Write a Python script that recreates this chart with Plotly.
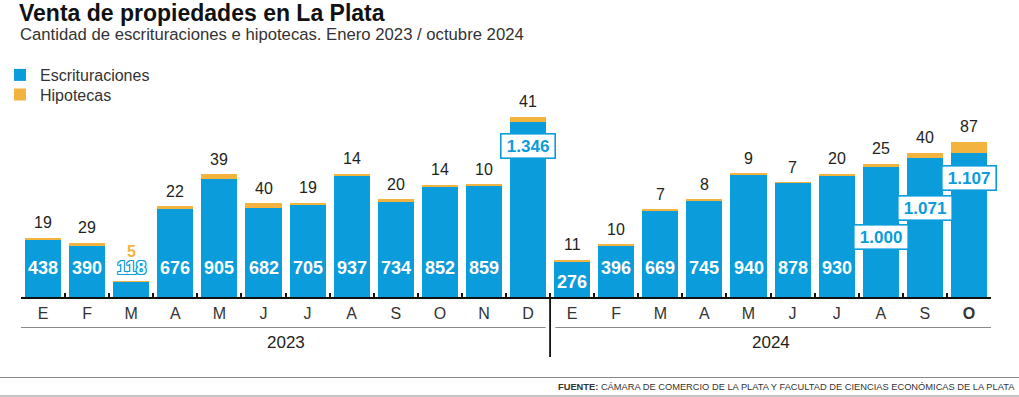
import plotly.graph_objects as go

# ---------------- data ----------------
months = ["E", "F", "M", "A", "M", "J", "J", "A", "S", "O", "N", "D",
          "E", "F", "M", "A", "M", "J", "J", "A", "S", "O"]
years = [2023] * 12 + [2024] * 10
escrituraciones = [438, 390, 118, 676, 905, 682, 705, 937, 734, 852, 859, 1346,
                   276, 396, 669, 745, 940, 878, 930, 1000, 1071, 1107]
hipotecas = [19, 29, 5, 22, 39, 40, 19, 14, 20, 14, 10, 41,
             11, 10, 7, 8, 9, 7, 20, 25, 40, 87]
year_labels = ["2023", "2024"]

title = "Venta de propiedades en La Plata"
subtitle = "Cantidad de escrituraciones e hipotecas. Enero 2023 / octubre 2024"
source = "<b>FUENTE:</b> CÁMARA DE COMERCIO DE LA PLATA Y FACULTAD DE CIENCIAS ECONÓMICAS DE LA PLATA"

# ---------------- style ----------------
BLUE = "#0b9cdb"
ORANGE = "#f2b43f"
TEXT = "#231f20"
FONT = "Liberation Sans, Arial, sans-serif"

W, H = 1019, 397
PL, PR, PT, PB = 21, 991, 110, 297
PW, PH = PR - PL, PB - PT


def px(x):
    return (x - PL) / PW


def py(y):
    return (PB - y) / PH


def fmt(v):
    return f"{v:,}".replace(",", ".")


cats = [f"{y}-{i:02d}" for i, y in enumerate(years)]
ticktext = months[:-1] + [f"<b>{months[-1]}</b>"]

fig = go.Figure()
fig.add_bar(x=cats, y=escrituraciones, name="Escrituraciones", legend="legend",
            marker=dict(color=BLUE, line=dict(width=0)), hoverinfo="skip")
fig.add_bar(x=cats, y=hipotecas, name="Hipotecas", legend="legend2",
            marker=dict(color=ORANGE, line=dict(width=0)), hoverinfo="skip")

annotations = []
# label offsets (pixels above baseline) for special cases
inside_shift = {12: 15}
box_shift = {11: 151, 19: 60, 20: 89, 21: 119}
outline = ",".join(f"{a}px {b}px 0 {BLUE}" for a in (-1, 0, 1) for b in (-1, 0, 1) if a or b)

for i, (e, h) in enumerate(zip(escrituraciones, hipotecas)):
    if e >= 1000:
        annotations.append(dict(
            x=i, y=0, xref="x", yref="y", yshift=box_shift.get(i, 29),
            text=f"<b>{fmt(e)}</b>", showarrow=False, yanchor="middle",
            font=dict(family=FONT, size=17, color=BLUE),
            bgcolor="white", bordercolor=BLUE, borderwidth=1.6, borderpad=2,
            width=49, height=19))
    else:
        f = dict(family=FONT, size=18, color="white")
        if e * PH / 1440 < 30:
            f["shadow"] = outline
        annotations.append(dict(
            x=i, y=0, xref="x", yref="y", yshift=inside_shift.get(i, 29),
            text=f"<b>{fmt(e)}</b>", showarrow=False, yanchor="middle", font=f))
    if e * PH / 1440 < 30:
        annotations.append(dict(
            x=i, y=0, xref="x", yref="y", yshift=46,
            text=f"<b>{h}</b>", showarrow=False, yanchor="middle",
            font=dict(family=FONT, size=16, color=ORANGE)))
    else:
        annotations.append(dict(
            x=i, y=e + h, xref="x", yref="y", yshift=15,
            text=str(h), showarrow=False, yanchor="middle",
            font=dict(family=FONT, size=16, color=TEXT)))

# year labels
groups = {}
for i, y in enumerate(years):
    groups.setdefault(str(y), []).append(i)
shapes = []
for k, (yl, idx) in enumerate(groups.items()):
    mid = (idx[0] + idx[-1]) / 2
    annotations.append(dict(
        x=mid, y=py(342), xref="x", yref="paper", text=yl, showarrow=False,
        yanchor="middle", font=dict(family=FONT, size=17, color=TEXT)))
    x0 = idx[0] - 0.5 + (0.12 if k > 0 else 0)
    x1 = idx[-1] + 0.5 - (0.1 if k < len(groups) - 1 else 0)
    shapes.append(dict(type="line", xref="x", yref="paper", x0=x0, x1=x1,
                       y0=py(327.5), y1=py(327.5), line=dict(color="#8a8a8a", width=1)))
    if k > 0:
        shapes.append(dict(type="line", xref="x", yref="paper",
                           x0=idx[0] - 0.5, x1=idx[0] - 0.5, y0=0, y1=py(357),
                           line=dict(color="#111", width=1.8)))

# footer lines
for yy in (377.5, 396):
    shapes.append(dict(type="line", xref="paper", yref="paper", x0=px(0), x1=px(W),
                       y0=py(yy), y1=py(yy), line=dict(color="#8a8a8a", width=1)))

# title, subtitle, source
annotations.append(dict(x=px(17), y=py(13.5), xref="paper", yref="paper",
                        xanchor="left", yanchor="middle", showarrow=False,
                        text=f"<b>{title}</b>",
                        font=dict(family=FONT, size=23, color="#111")))
annotations.append(dict(x=px(18), y=py(35), xref="paper", yref="paper",
                        xanchor="left", yanchor="middle", showarrow=False,
                        text=subtitle, font=dict(family=FONT, size=16.7, color="#333")))
annotations.append(dict(x=px(1017), y=py(387), xref="paper", yref="paper",
                        xanchor="right", yanchor="middle", showarrow=False,
                        text=source,
                        font=dict(family="Liberation Sans Narrow, " + FONT, size=9.3, color="#333")))

legend_common = dict(xref="container", yref="container", x=0.0,
                     xanchor="left", yanchor="top", traceorder="normal",
                     font=dict(family=FONT, size=16, color="#333"),
                     bgcolor="rgba(0,0,0,0)", itemclick=False)

fig.update_layout(
    width=W, height=H,
    margin=dict(l=PL, r=W - PR, t=PT, b=H - PB, pad=0, autoexpand=False),
    paper_bgcolor="white", plot_bgcolor="white",
    barmode="stack", bargap=0.18,
    showlegend=True,
    legend=dict(y=1 - 58 / H, **legend_common),
    legend2=dict(y=1 - 77.5 / H, **legend_common),
    xaxis=dict(type="category", categoryorder="array", categoryarray=cats,
               tickmode="array", tickvals=cats, ticktext=ticktext,
               tickson="boundaries", ticks="inside", ticklen=4, tickwidth=1.5,
               tickcolor="#111", showline=True, linecolor="#111", linewidth=1.5,
               showgrid=False, zeroline=False, range=[-0.5, len(cats) - 0.5],
               tickfont=dict(family=FONT, size=16, color="#333"), ticklabelstandoff=1,
               automargin=False),
    yaxis=dict(range=[0, 1440], visible=False, showgrid=False, zeroline=False),
    annotations=annotations, shapes=shapes,
)

fig.write_html("out.html", config={"displayModeBar": False},
               post_script="document.body.style.margin='0';document.body.style.overflow='hidden';")
